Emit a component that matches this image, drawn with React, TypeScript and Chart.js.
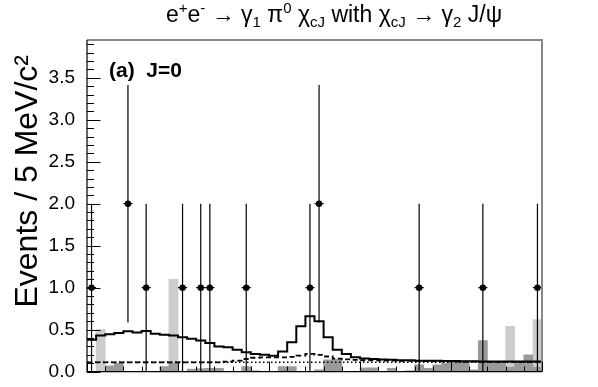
import React, { useEffect, useRef } from "react";
import { Chart, registerables } from "chart.js";
Chart.register(...registerables);

// 50 bins of 5 MeV (bin index units on the x axis)
const nBins = 50;

// observed events per bin
const dataCounts = [
  1, 0, 0, 0, 2, 0, 1, 0, 0, 0,
  1, 0, 1, 1, 0, 0, 0, 1, 0, 0,
  0, 0, 0, 0, 1, 2, 0, 0, 0, 0,
  0, 0, 0, 0, 0, 0, 1, 0, 0, 0,
  0, 0, 0, 1, 0, 0, 0, 0, 0, 1,
];

// total fit (solid)
const totalFit = [
  0.38, 0.43, 0.445, 0.46, 0.48, 0.465, 0.485, 0.45, 0.44, 0.43,
  0.41, 0.39, 0.37, 0.34, 0.30, 0.29, 0.26, 0.23, 0.21, 0.20,
  0.19, 0.24, 0.35, 0.54, 0.66, 0.60, 0.41, 0.26, 0.21, 0.17,
  0.155, 0.15, 0.145, 0.14, 0.135, 0.135, 0.13, 0.13, 0.13, 0.125,
  0.125, 0.122, 0.122, 0.121, 0.121, 0.12, 0.12, 0.12, 0.12, 0.12,
];

// peaking component (dashed)
const peakingBkg = [
  0.11, 0.11, 0.11, 0.11, 0.11, 0.11, 0.11, 0.11, 0.11, 0.11,
  0.11, 0.11, 0.11, 0.11, 0.11, 0.12, 0.13, 0.15, 0.165, 0.17,
  0.17, 0.17, 0.175, 0.19, 0.21, 0.20, 0.18, 0.155, 0.145, 0.14,
  0.135, 0.135, 0.13, 0.13, 0.128, 0.128, 0.125, 0.125, 0.123, 0.12,
  0.12, 0.118, 0.118, 0.117, 0.117, 0.116, 0.116, 0.115, 0.115, 0.115,
];

// flat background (dotted)
const flatBkg = [
  0.11, 0.11, 0.11, 0.11, 0.11, 0.11, 0.11, 0.11, 0.11, 0.11,
  0.11, 0.11, 0.11, 0.11, 0.11, 0.11, 0.11, 0.11, 0.11, 0.11,
  0.11, 0.11, 0.11, 0.11, 0.11, 0.11, 0.11, 0.11, 0.11, 0.11,
  0.11, 0.11, 0.11, 0.11, 0.11, 0.11, 0.11, 0.11, 0.11, 0.11,
  0.11, 0.11, 0.11, 0.11, 0.11, 0.11, 0.11, 0.11, 0.11, 0.11,
];

// dark grey filled histogram
const darkBkg = [
  0, 0, 0.07, 0.10, 0, 0, 0, 0, 0.06, 0.10,
  0, 0.03, 0.035, 0.04, 0.04, 0, 0, 0.06, 0.01, 0,
  0, 0.06, 0.06, 0, 0, 0.02, 0.14, 0.15, 0, 0,
  0.045, 0.045, 0, 0.04, 0, 0.01, 0.08, 0.04, 0.08, 0.10,
  0.12, 0.12, 0.02, 0.37, 0.11, 0.11, 0.05, 0.11, 0.20, 0.05,
];

// light grey filled histogram
const lightBkg = [
  0, 0.50, 0, 0, 0, 0, 0, 0, 0, 1.10,
  0, 0, 0, 0, 0, 0, 0, 0, 0, 0,
  0, 0, 0, 0, 0, 0, 0, 0, 0, 0,
  0, 0, 0, 0, 0, 0, 0, 0, 0, 0,
  0, 0, 0, 0, 0, 0, 0.54, 0, 0, 0.62,
];

const yMax = 3.95;
const yMajorStep = 0.5;
const yMinorStep = 0.1;
const xMajorStep = 10;
const xMinorStep = 2;

type Seg = { t: string; k?: "sub" | "sup" };
const titleSegments: Seg[] = [
  { t: "e" }, { t: "+", k: "sup" }, { t: "e" }, { t: "-", k: "sup" },
  { t: " \u2192 \u03b3" }, { t: "1", k: "sub" },
  { t: " \u03c0" }, { t: "0", k: "sup" },
  { t: " \u03c7" }, { t: "cJ", k: "sub" },
  { t: " with \u03c7" }, { t: "cJ", k: "sub" },
  { t: " \u2192 \u03b3" }, { t: "2", k: "sub" },
  { t: " J/\u03c8" },
];
const yAxisTitle = "Events / 5 MeV/c\u00b2";
const panelLabel = "(a)  J=0";

const FONT = '"Liberation Sans", Arial, Helvetica, sans-serif';

const stepPts = (v: number[]) => [
  ...v.map((y, i) => ({ x: i, y })),
  { x: v.length, y: v[v.length - 1] },
];
const barPts = (v: number[]) => v.map((y, i) => ({ x: i + 0.5, y }));
const dataPts = dataCounts
  .map((n, i) => ({ x: i + 0.5, y: n }))
  .filter((p) => p.y > 0);

const decorPlugin = {
  id: "decor",
  afterDatasetsDraw(chart: any) {
    const { ctx, scales } = chart;
    const xs = scales.x;
    const ys = scales.y;
    ctx.save();
    ctx.strokeStyle = "#000";
    ctx.lineWidth = 1.2;
    for (const p of dataPts) {
      const err = Math.sqrt(p.y);
      const px = xs.getPixelForValue(p.x);
      const y0 = ys.getPixelForValue(Math.max(0, p.y - err));
      const y1 = ys.getPixelForValue(p.y + err);
      ctx.beginPath();
      ctx.moveTo(px, y0);
      ctx.lineTo(px, y1);
      const py = ys.getPixelForValue(p.y);
      ctx.moveTo(xs.getPixelForValue(p.x - 0.5), py);
      ctx.lineTo(xs.getPixelForValue(p.x + 0.5), py);
      ctx.stroke();
    }
    ctx.restore();
  },
  afterDraw(chart: any) {
    const { ctx, chartArea: a, scales } = chart;
    const xs = scales.x;
    const ys = scales.y;
    ctx.save();
    // frame top/right
    ctx.strokeStyle = "#888";
    ctx.lineWidth = 2;
    ctx.beginPath();
    ctx.moveTo(a.left, a.top);
    ctx.lineTo(a.right, a.top);
    ctx.lineTo(a.right, a.bottom);
    ctx.stroke();
    // axes left/bottom
    ctx.strokeStyle = "#000";
    ctx.lineWidth = 1.2;
    ctx.beginPath();
    ctx.moveTo(a.left, a.top);
    ctx.lineTo(a.left, a.bottom);
    ctx.lineTo(a.right, a.bottom);
    ctx.stroke();
    // y ticks
    ctx.lineWidth = 1;
    ctx.beginPath();
    const nY = Math.floor(yMax / yMinorStep + 1e-6);
    for (let i = 0; i <= nY; i++) {
      const v = i * yMinorStep;
      const major = Math.abs(v / yMajorStep - Math.round(v / yMajorStep)) < 1e-6;
      const py = Math.round(ys.getPixelForValue(v)) + 0.5;
      ctx.moveTo(a.left, py);
      ctx.lineTo(a.left + (major ? 13.5 : 7), py);
    }
    // x ticks
    for (let b = 0; b <= nBins; b += xMinorStep) {
      const major = b % xMajorStep === 0;
      const px = Math.round(xs.getPixelForValue(b)) + 0.5;
      ctx.moveTo(px, a.bottom);
      ctx.lineTo(px, a.bottom - (major ? 10 : 5));
    }
    ctx.stroke();

    // panel label
    ctx.fillStyle = "#000";
    ctx.font = `bold 21px ${FONT}`;
    ctx.textAlign = "left";
    ctx.textBaseline = "alphabetic";
    ctx.fillText(panelLabel, 109, 77);

    // y-axis title (aligned to top end, ROOT-style)
    ctx.save();
    ctx.font = `32px ${FONT}`;
    ctx.translate(37, 55);
    ctx.rotate(-Math.PI / 2);
    ctx.textAlign = "right";
    ctx.fillText(yAxisTitle, 0, 0);
    ctx.restore();

    // title with sub/superscripts
    const base = 23;
    const small = 15;
    const fontFor = (s: Seg) => `${s.k ? small : base}px ${FONT}`;
    let total = 0;
    for (const s of titleSegments) {
      ctx.font = fontFor(s);
      total += ctx.measureText(s.t).width;
    }
    let x = 334 - total / 2;
    const baseY = 22;
    ctx.textAlign = "left";
    for (const s of titleSegments) {
      ctx.font = fontFor(s);
      const dy = s.k === "sup" ? -9 : s.k === "sub" ? 5 : 0;
      ctx.fillText(s.t, x, baseY + dy);
      x += ctx.measureText(s.t).width;
    }
    ctx.restore();
  },
};

export default function App() {
  const ref = useRef<HTMLCanvasElement | null>(null);
  useEffect(() => {
    document.body.style.margin = "0";
    const canvas = ref.current!;
    const chart = new Chart(canvas, {
      type: "bar",
      data: {
        datasets: [
          {
            type: "line",
            label: "Data",
            data: dataPts,
            showLine: false,
            pointRadius: 3.2,
            pointBackgroundColor: "#000",
            pointBorderColor: "#000",
            pointBorderWidth: 0,
            order: 0,
          } as any,
          {
            type: "line",
            label: "Total fit",
            data: stepPts(totalFit),
            stepped: "before",
            borderColor: "#000",
            borderWidth: 2,
            pointRadius: 0,
            fill: false,
            order: 1,
          } as any,
          {
            type: "line",
            label: "Peaking",
            data: stepPts(peakingBkg),
            stepped: "before",
            borderColor: "#000",
            borderWidth: 1.8,
            borderDash: [5, 3],
            pointRadius: 0,
            fill: false,
            order: 2,
          } as any,
          {
            type: "line",
            label: "Flat",
            data: stepPts(flatBkg),
            stepped: "before",
            borderColor: "#000",
            borderWidth: 1.5,
            borderDash: [1.5, 2.5],
            pointRadius: 0,
            fill: false,
            order: 3,
          } as any,
          {
            type: "bar",
            label: "Dark",
            data: barPts(darkBkg),
            backgroundColor: "#9a9a9a",
            borderWidth: 0,
            barPercentage: 1,
            categoryPercentage: 1,
            grouped: false,
            order: 4,
          } as any,
          {
            type: "bar",
            label: "Light",
            data: barPts(lightBkg),
            backgroundColor: "#cccccc",
            borderWidth: 0,
            barPercentage: 1,
            categoryPercentage: 1,
            grouped: false,
            order: 5,
          } as any,
        ],
      },
      options: {
        animation: false,
        responsive: false,
        events: [],
        layout: { padding: { left: 0, top: 40, right: 56, bottom: 10 } },
        plugins: {
          legend: { display: false },
          tooltip: { enabled: false },
          title: { display: false },
        },
        scales: {
          x: {
            type: "linear",
            min: 0,
            max: nBins,
            offset: false,
            display: false,
          },
          y: {
            type: "linear",
            min: 0,
            max: yMax,
            grid: { display: false },
            border: { display: false },
            ticks: {
              stepSize: yMajorStep,
              includeBounds: false,
              padding: 4,
              color: "#000",
              font: { family: FONT, size: 19 },
              callback: (v: any) => Number(v).toFixed(1),
            },
            afterFit: (s: any) => {
              s.width = 87;
            },
          },
        },
      } as any,
      plugins: [decorPlugin],
    });
    return () => chart.destroy();
  }, []);
  return <canvas ref={ref} width={598} height={387} />;
}
